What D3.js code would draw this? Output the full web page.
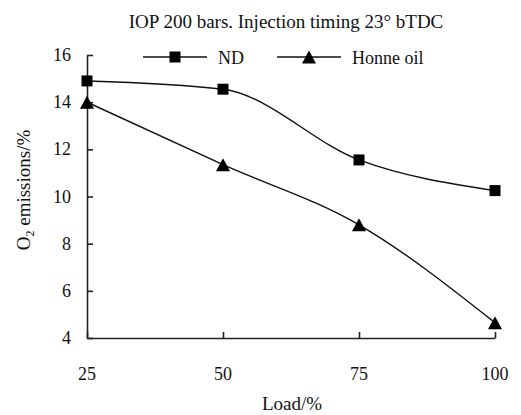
<!DOCTYPE html>
<html>
<head>
<meta charset="utf-8">
<script src="https://cdn.jsdelivr.net/npm/d3@7"></script>
<style>
  body { margin: 0; background: #fff; }
  text { font-family: "Liberation Serif", "Times New Roman", serif; fill: #111; }
</style>
</head>
<body>
<div id="chart"></div>
<script>
const loads = [25, 50, 75, 100];
const ndValues = [14.9, 14.55, 11.55, 10.25];
const honneValues = [14.0, 11.35, 8.8, 4.65];
const yTicks = [4, 6, 8, 10, 12, 14, 16];
const seriesNames = ["ND", "Honne oil"];

const width = 521, height = 415;
const svg = d3.select("#chart").append("svg")
    .attr("width", width)
    .attr("height", height);

// plot area
const plotLeft = 87, plotRight = 495, plotTop = 55, plotBottom = 338;

const x = d3.scaleLinear().domain([25, 100]).range([plotLeft, plotRight]);
const y = d3.scaleLinear().domain([4, 16]).range([plotBottom, plotTop]);

// title
svg.append("text")
    .attr("x", 286).attr("y", 28)
    .attr("text-anchor", "middle")
    .attr("font-size", 19)
    .text("IOP 200 bars. Injection timing 23° bTDC");

// y axis, ticks pointing inward
const yAxis = svg.append("g")
    .attr("transform", "translate(" + plotLeft + ",0)")
    .call(d3.axisRight(y).tickValues(yTicks).tickSize(6).tickSizeOuter(0).tickFormat(""));
yAxis.select(".domain").attr("stroke-width", 1.6).attr("stroke", "#222");
yAxis.selectAll(".tick line").attr("stroke-width", 1.6).attr("stroke", "#222");

yTicks.forEach(v => {
    svg.append("text")
        .attr("x", 71).attr("y", y(v) + 6)
        .attr("text-anchor", "end")
        .attr("font-size", 18)
        .text(v);
});

// x axis, ticks pointing up
const xAxis = svg.append("g")
    .attr("transform", "translate(0," + plotBottom + ")")
    .call(d3.axisTop(x).tickValues(loads).tickSize(6).tickSizeOuter(0).tickFormat(""));
xAxis.select(".domain").attr("stroke-width", 1.6).attr("stroke", "#222");
xAxis.selectAll(".tick line").attr("stroke-width", 1.6).attr("stroke", "#222");

loads.forEach(v => {
    svg.append("text")
        .attr("x", x(v)).attr("y", 380)
        .attr("text-anchor", "middle")
        .attr("font-size", 18)
        .text(v);
});

// axis titles
svg.append("text")
    .attr("x", 292).attr("y", 410)
    .attr("text-anchor", "middle")
    .attr("font-size", 19)
    .text("Load/%");

const yLabel = svg.append("text")
    .attr("transform", "translate(30,190) rotate(-90)")
    .attr("text-anchor", "middle")
    .attr("font-size", 19);
yLabel.append("tspan").text("O");
yLabel.append("tspan").attr("font-size", 12).attr("dy", 4).text("2");
yLabel.append("tspan").attr("dy", -4).text(" emissions/%");

// lines
const line = d3.line()
    .x(d => x(d[0]))
    .y(d => y(d[1]))
    .curve(d3.curveMonotoneX);

const ndData = loads.map((l, i) => [l, ndValues[i]]);
const honneData = loads.map((l, i) => [l, honneValues[i]]);

[ndData, honneData].forEach(data => {
    svg.append("path")
        .datum(data)
        .attr("d", line)
        .attr("fill", "none")
        .attr("stroke", "#111")
        .attr("stroke-width", 1.4);
});

// markers; triangle is drawn around its box centre like the original
const squareSym = d3.symbol().type(d3.symbolSquare).size(121);
const boxTriangle = {
    draw(context, size) {
        const w = 14, h = 13;
        context.moveTo(0, -h / 2);
        context.lineTo(w / 2, h / 2);
        context.lineTo(-w / 2, h / 2);
        context.closePath();
    }
};
const triSym = d3.symbol().type(boxTriangle);

svg.selectAll(".nd-pt").data(ndData).enter()
    .append("path")
    .attr("class", "nd-pt")
    .attr("d", squareSym)
    .attr("transform", d => "translate(" + x(d[0]) + "," + y(d[1]) + ")")
    .attr("fill", "#000");

svg.selectAll(".honne-pt").data(honneData).enter()
    .append("path")
    .attr("class", "honne-pt")
    .attr("d", triSym)
    .attr("transform", d => "translate(" + x(d[0]) + "," + y(d[1]) + ")")
    .attr("fill", "#000");

// legend
const legendItems = [
    { name: seriesNames[0], sym: squareSym, x0: 143, x1: 207, tx: 218 },
    { name: seriesNames[1], sym: triSym, x0: 277, x1: 341, tx: 352 }
];
const ly = 57;
legendItems.forEach(it => {
    svg.append("line")
        .attr("x1", it.x0).attr("x2", it.x1)
        .attr("y1", ly).attr("y2", ly)
        .attr("stroke", "#111").attr("stroke-width", 1.4);
    svg.append("path")
        .attr("d", it.sym)
        .attr("transform", "translate(" + ((it.x0 + it.x1) / 2) + "," + ly + ")")
        .attr("fill", "#000");
    svg.append("text")
        .attr("x", it.tx).attr("y", ly + 7)
        .attr("font-size", 18)
        .text(it.name);
});
</script>
</body>
</html>
